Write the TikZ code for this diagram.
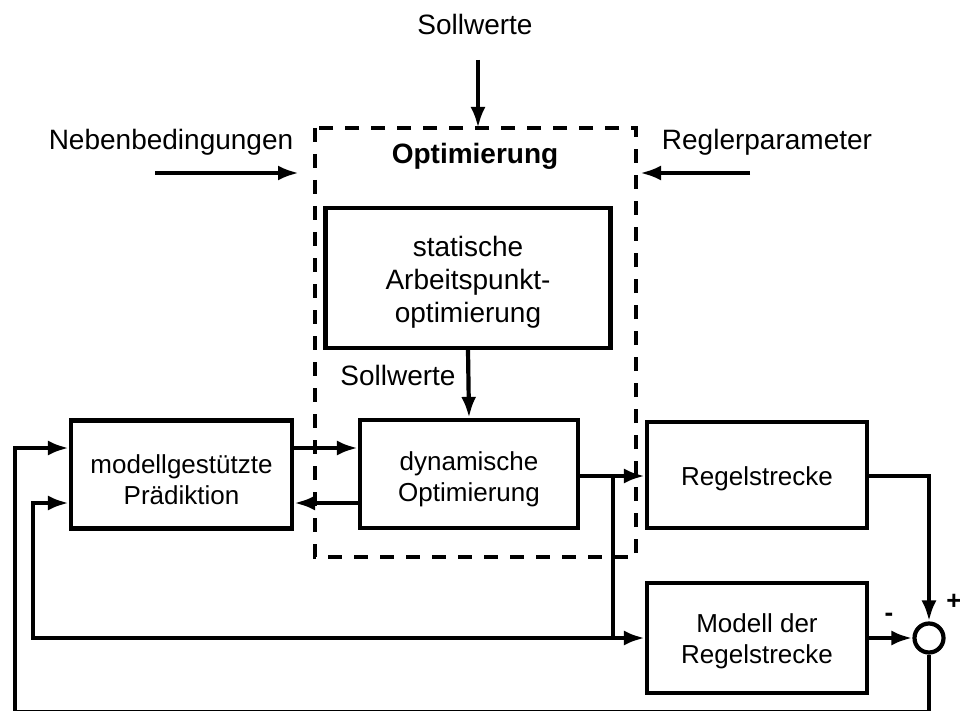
\documentclass[tikz,border=0pt]{standalone}
\usepackage{fontspec}
\setmainfont{Liberation Sans}
\usetikzlibrary{arrows.meta}
\begin{document}
\begin{tikzpicture}[x=1pt,y=-1pt,
  line width=4.2pt,
  every node/.style={align=center},
  lbl/.style={font=\fontsize{28}{33}\selectfont},
  blocktext/.style={font=\fontsize{26}{31}\selectfont},
  blockbox/.style={draw, line width=4.2pt, inner sep=0pt},
  sig/.style={-{Latex[length=21pt,width=15pt]}},
  optframe/.style={draw, dash pattern=on 14pt off 12pt, line width=4.2pt}]
\useasboundingbox (0,0) rectangle (960,711);

% optimisation frame
\draw[optframe] (315,128) rectangle (636,557);
\node[lbl] (opt) at (475,156) {\bfseries Optimierung};

% blocks (frames first, their texts placed on the frame centres;
% the y axis points down, so a negative yshift lowers a text)
\node[blockbox, minimum width=285pt, minimum height=140pt] (stat) at (468,278) {};
\node[lbl] (statT) at ([yshift=-4pt]stat.center) {statische\\Arbeitspunkt-\\optimierung};
\node[blockbox, minimum width=218pt, minimum height=108pt] (dyn) at (469,474) {};
\node[blocktext] (dynT) at ([yshift=-5pt]dyn.center) {dynamische\\Optimierung};
\node[blockbox, minimum width=221pt, minimum height=108pt] (pred) at (181.5,474.5) {};
\node[blocktext] (predT) at ([yshift=-5pt]pred.center) {modellgestützte\\Prädiktion};
\node[blockbox, minimum width=220pt, minimum height=106pt] (strecke) at (757,475) {};
\node[blocktext] (streckeT) at ([yshift=-4pt]strecke.center) {Regelstrecke};
\node[blockbox, minimum width=220pt, minimum height=110pt] (modell) at (757,638) {};
\node[blocktext] (modellT) at ([yshift=-3pt]modell.center) {Modell der\\Regelstrecke};
\node[draw, circle, line width=4.2pt, minimum size=29pt, inner sep=0pt] (sum) at (929,638) {};

% external inputs
\node[lbl] (sollTop) at (475,24) {Sollwerte};
\coordinate (sollA) at (478,60);
\draw[sig] (sollA) -- (478,128);
\node[lbl] (neben) at (171,142) {Nebenbedingungen};
\coordinate (nebenA) at (155,173);
\draw[sig] (nebenA) -- (299,173);
\node[lbl] (regpar) at (767,142) {Reglerparameter};
\coordinate (regparA) at (750,173);
\draw[sig] (regparA) -- (640,173);

% setpoints from static to dynamic optimisation
\node[lbl] (sollMid) at (398,375) {Sollwerte};
\draw[sig] (stat.south) -- (dyn.north);

% prediction <-> dynamic optimisation
\draw[sig] (pred.east |- 0,448) -- (dyn.west |- 0,448);
\draw[sig] (dyn.west |- 0,503) -- (pred.east |- 0,503);

% control signal
\coordinate (u) at (613,476);
\coordinate (uLow) at (613,638);
\draw[sig] (dyn.east |- u) -- (strecke.west |- u);
\draw (u) -- (uLow);
\draw[sig] (uLow) -- (modell.west |- uLow);
\coordinate (fbA) at (33,638);
\coordinate (fbB) at (33,503);
\draw[sig] (uLow) -- (fbA) -- (fbB) -- (pred.west |- fbB);

% comparison of plant and model
\coordinate (yr) at (929,476);
\draw[sig] (strecke.east |- yr) -- (yr) -- (sum.north);
\draw[sig] (modell.east) -- (sum.west);
\node[font=\fontsize{26}{30}\selectfont\bfseries] (plus) at (954,602) {+};
\node[font=\fontsize{26}{30}\selectfont\bfseries] (minus) at (889,617) {-};

% error feedback
\coordinate (eB) at (929,712);
\coordinate (eC) at (15,712);
\coordinate (eD) at (15,448);
\draw[sig] (sum.south) -- (eB) -- (eC) -- (eD) -- (pred.west |- eD);
\end{tikzpicture}
\end{document}
